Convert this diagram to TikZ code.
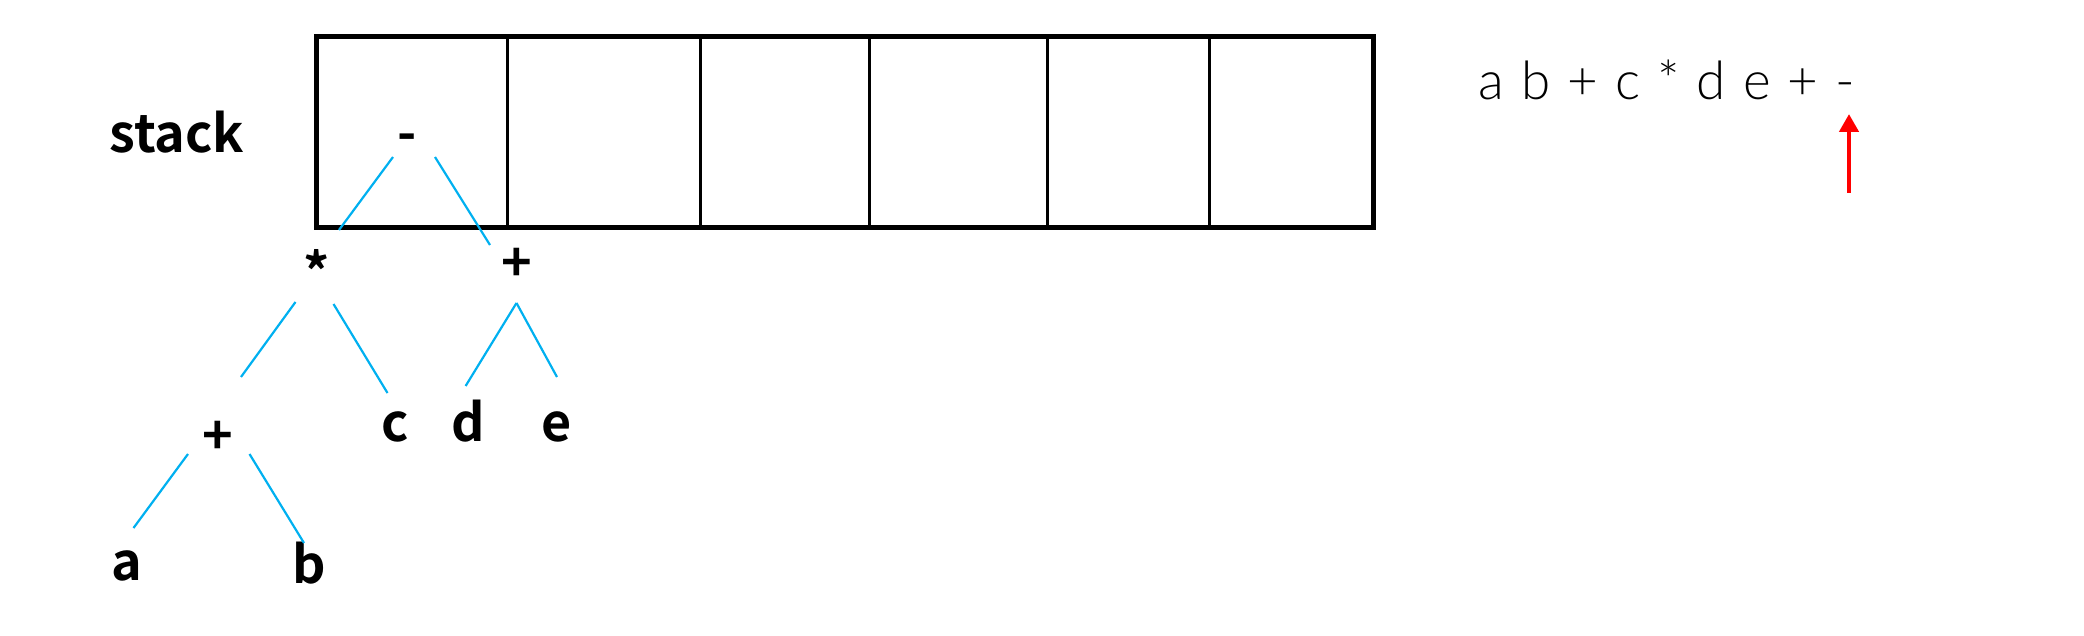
\documentclass[tikz,border=0pt]{standalone}
\usepackage{fontspec}
\usetikzlibrary{calc,arrows.meta}
\newfontfamily\lblfont{Noto Sans CJK SC}[BoldFont={Noto Sans CJK SC Bold}]
\newfontfamily\thinfont{Lato}[UprightFont={* Light}]
\definecolor{treeblue}{RGB}{0,176,240}
\definecolor{arrred}{RGB}{255,0,0}
\begin{document}
\begin{tikzpicture}[x=0.5pt,y=-0.5pt,
  lbl/.style={inner sep=0pt,anchor=base,font=\lblfont\bfseries\fontsize{26pt}{28pt}\selectfont},
  edge/.style={draw=treeblue,line width=1.1pt},
  outerbox/.style={draw=black,line width=2.5pt,inner sep=0pt,minimum width=528.5pt,minimum height=95.5pt},
  cellline/.style={draw=black,line width=1.5pt},
  seqtext/.style={inner sep=0pt,anchor=base,font=\thinfont\fontsize{26.5pt}{28pt}\selectfont},
  pointer/.style={draw=arrred,line width=2.35pt,-{Triangle[length=9pt,width=9.5pt]}}]
\useasboundingbox (0,0) rectangle (2084,636);
% stack
\node[outerbox] (stackbox) at (844.5,132.5) {};
\foreach \x in {507.6,700.5,869,1047.5,1209.7}
  \draw[cellline] (\x,0 |- stackbox.north) -- (\x,0 |- stackbox.south);
\node[lbl] (stacklbl) at (177,153) {stack};
% tree nodes
\node[lbl] (minus) at (407.6,152) {-};
\node[lbl] (star) at (317,292) {*};
\node[lbl] (plusR) at (516.5,281.5) {+};
\node[lbl] (plusL) at (218,454.5) {+};
\node[lbl] (c) at (395,441) {c};
\node[lbl] (d) at (468,441) {d};
\node[lbl] (e) at (557,441) {e};
\node[lbl] (a) at (127,580) {a};
\node[lbl] (b) at (309,583) {b};
% tree edges
\draw[edge] ($(minus.base)+(-14.6,5)$) -- ($(star.base)+(22,-62)$);
\draw[edge] ($(minus.base)+(27.4,5)$) -- ($(plusR.base)+(-26.5,-36.5)$);
\draw[edge] ($(star.base)+(-21.5,10)$) -- ($(plusL.base)+(23,-77.5)$);
\draw[edge] ($(star.base)+(16.5,12)$) -- ($(c.base)+(-7.5,-48)$);
\draw[edge] ($(plusR.base)+(0,21.5)$) -- ($(d.base)+(-2.4,-55)$);
\draw[edge] ($(plusR.base)+(0,21.5)$) -- ($(e.base)+(0,-64)$);
\draw[edge] ($(plusL.base)+(-30,-0.5)$) -- ($(a.base)+(6.5,-52)$);
\draw[edge] ($(plusL.base)+(31.5,-0.5)$) -- ($(b.base)+(-5,-40)$);
% postfix sequence
\node[seqtext] (seq) at (1667,100) {\spaceskip=8.5pt a b + c * d e + -};
\coordinate (arrtail) at (1849,193);
\coordinate (arrtip) at (1849,114);
\draw[pointer] (arrtail) -- (arrtip);
\end{tikzpicture}
\end{document}
